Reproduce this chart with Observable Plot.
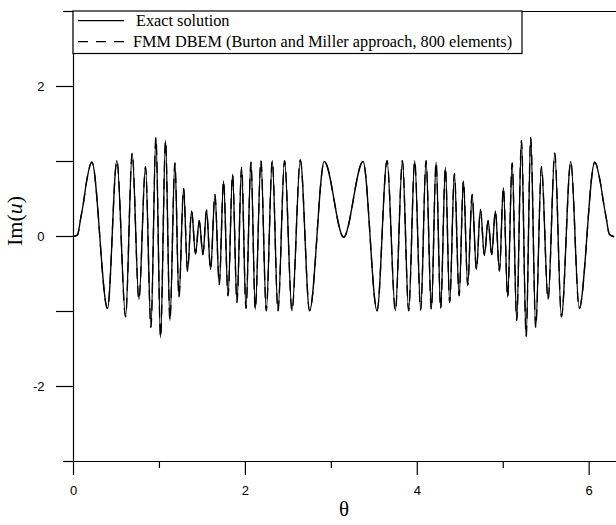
<!DOCTYPE html>
<html><head><meta charset="utf-8">
<script src="https://cdn.jsdelivr.net/npm/d3@7"></script>
<script src="https://cdn.jsdelivr.net/npm/@observablehq/plot@0.6"></script>
<style>html,body{margin:0;padding:0;background:#fff;overflow:hidden}</style>
</head><body><div id="chart"></div>
<script>
// Readings (extrema and shape points)
const theta = [
  0.000, 0.045, 0.085, 0.116, 0.150, 0.214, 0.396, 0.505, 0.606, 0.683,
  0.761, 0.838, 0.901, 0.959, 1.013, 1.071, 1.122, 1.180, 1.227, 1.281,
  1.327, 1.374, 1.420, 1.463, 1.506, 1.548, 1.595, 1.646, 1.696, 1.746,
  1.798, 1.851, 1.902, 1.956, 2.007, 2.065, 2.115, 2.181, 2.243, 2.313,
  2.379, 2.456, 2.542, 2.639, 2.747, 2.918, 3.143, 3.369, 3.532, 3.648,
  3.745, 3.827, 3.900, 3.970, 4.040, 4.102, 4.164, 4.219, 4.272, 4.327,
  4.377, 4.432, 4.487, 4.537, 4.587, 4.638, 4.688, 4.735, 4.781, 4.824,
  4.866, 4.909, 4.956, 5.002, 5.052, 5.104, 5.157, 5.212, 5.267, 5.320,
  5.378, 5.445, 5.522, 5.600, 5.677, 5.786, 5.884, 6.065, 6.130, 6.163,
  6.198, 6.235, 6.283
];
const imExact = [
  0.00, 0.02, 0.25, 0.45, 0.72, 0.99, -0.96, 1.01, -1.07, 1.11,
  -0.84, 0.93, -1.21, 1.32, -1.35, 1.28, -1.12, 0.98, -0.81, 0.64,
  -0.46, 0.34, -0.23, 0.21, -0.24, 0.35, -0.44, 0.56, -0.64, 0.74,
  -0.79, 0.83, -0.88, 0.92, -0.96, 0.99, -0.97, 1.01, -0.99, 1.01,
  -0.99, 1.01, -0.99, 1.02, -0.99, 1.00, -0.01, 1.00, -0.99, 1.01,
  -0.99, 1.01, -0.99, 1.01, -0.98, 1.01, -0.97, 0.99, -0.96, 0.92,
  -0.88, 0.84, -0.79, 0.74, -0.65, 0.56, -0.44, 0.36, -0.25, 0.21,
  -0.24, 0.34, -0.46, 0.65, -0.81, 0.98, -1.12, 1.28, -1.33, 1.32,
  -1.21, 0.93, -0.84, 1.11, -1.07, 1.00, -0.96, 0.99, 0.72, 0.48,
  0.25, 0.03, 0.00
];
// FMM DBEM result coincides with the exact solution at this scale
const imFmm = imExact;

const xMajorTicks = [0, 2, 4, 6];
const xMinorTicks = [1, 3, 5];
const yTicks = [-2, -1, 0, 1, 2];
const yTickLabels = [-2, 0, 2];
const yEdgeTicks = [-3, 3];
const legendLabels = ["Exact solution", "FMM DBEM (Burton and Miller approach, 800 elements)"];
const xLabel = "θ";

const exactData = theta.map((t, i) => ({t, v: imExact[i]}));
const fmmData = theta.map((t, i) => ({t, v: imFmm[i]}));
const sans = "'Liberation Sans', Arial, sans-serif";

const plot = Plot.plot({
  width: 616, height: 525,
  marginLeft: 73, marginRight: 0, marginTop: 11, marginBottom: 64,
  style: {fontFamily: sans, fontSize: "13px", color: "black", background: "white"},
  x: {domain: [0, 6.318], axis: null},
  y: {domain: [-3, 3], axis: null},
  marks: [
    Plot.ruleY([3, -3], {stroke: "black", strokeWidth: 1.2}),
    Plot.ruleX([0], {stroke: "black", strokeWidth: 1.2}),
    Plot.axisY(yTicks, {anchor: "left", tickSize: 17, strokeWidth: 1.2, label: null, tickFormat: () => ""}),
    Plot.axisY(yEdgeTicks, {anchor: "left", tickSize: 10, strokeWidth: 1.2, label: null, tickFormat: () => ""}),
    Plot.text(yTickLabels, {x: 0, y: d => d, text: d => String(d), textAnchor: "end", dx: -29, fontSize: 13, fontFamily: sans}),
    Plot.axisX(xMajorTicks, {anchor: "bottom", tickSize: 14, strokeWidth: 1.2, label: null, tickFormat: () => ""}),
    Plot.axisX(xMinorTicks, {anchor: "bottom", tickSize: 7, strokeWidth: 1.2, label: null, tickFormat: () => ""}),
    Plot.text(xMajorTicks, {x: d => d, y: -3, text: d => String(d), textAnchor: "middle", dy: 29, fontSize: 13, fontFamily: sans}),
    Plot.line(exactData, {x: "t", y: "v", stroke: "black", strokeWidth: 1.35, curve: "monotone-x"}),
    Plot.line(fmmData, {x: "t", y: "v", stroke: "black", strokeWidth: 1.35, strokeDasharray: "10,8", curve: "monotone-x"})
  ]
});
document.getElementById("chart").appendChild(plot);

const svg = d3.select(plot);
const serif = "'Liberation Serif', 'Times New Roman', serif";
const lg = svg.append("g");
lg.append("rect").attr("x", 73).attr("y", 11).attr("width", 449).attr("height", 42.5)
  .attr("fill", "white").attr("stroke", "black").attr("stroke-width", 1.2);
lg.append("line").attr("x1", 78).attr("x2", 124).attr("y1", 20.7).attr("y2", 20.7)
  .attr("stroke", "black").attr("stroke-width", 1.2);
lg.append("line").attr("x1", 78).attr("x2", 124).attr("y1", 41.7).attr("y2", 41.7)
  .attr("stroke", "black").attr("stroke-width", 1.2).attr("stroke-dasharray", "10,8");
lg.append("text").attr("x", 136).attr("y", 26).attr("text-anchor", "start")
  .attr("font-family", serif).attr("font-size", 16.25).text(legendLabels[0]);
lg.append("text").attr("x", 133).attr("y", 47).attr("text-anchor", "start")
  .attr("font-family", serif).attr("font-size", 16.25).text(legendLabels[1]);

const yl = svg.append("text").attr("transform", "translate(22,221) rotate(-90)")
  .attr("text-anchor", "middle").attr("font-family", serif).attr("font-size", 22);
yl.append("tspan").text("Im(");
yl.append("tspan").attr("font-style", "italic").text("u");
yl.append("tspan").text(")");

svg.append("text").attr("x", 344).attr("y", 516).attr("text-anchor", "middle")
  .attr("font-family", serif).attr("font-size", 21).text(xLabel);
</script>
</body></html>
